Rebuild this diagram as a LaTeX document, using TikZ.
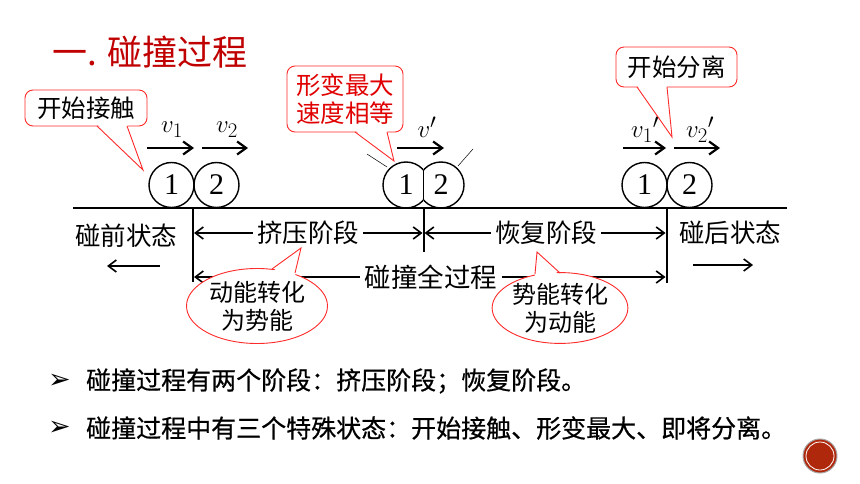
\documentclass[tikz,border=0pt]{standalone}
\usepackage{fontspec}
\setmainfont{Liberation Serif}
\newfontfamily\cjk{Noto Sans CJK SC}
\newfontfamily\cjkb[FakeBold=0.6]{Noto Sans CJK SC}
\newfontfamily\djv{DejaVu Sans}
\usetikzlibrary{arrows.meta,shapes.geometric}
\definecolor{titlered}{HTML}{C00000}
\definecolor{callred}{HTML}{FF2A2A}
\definecolor{textred}{HTML}{E00000}
\definecolor{dotred}{HTML}{B0280C}
\begin{document}
\begin{tikzpicture}[x=1pt,y=-1pt,
  ball/.style={draw,line width=1.4pt,circle,minimum size=45pt,inner sep=0pt,font=\fontsize{30}{30}\selectfont},
  ballnum/.style={inner sep=0pt,font=\fontsize{30}{30}\selectfont},
  vel/.style={line width=2.2pt,-{Straight Barb[length=9pt,width=13pt]}},
  dim/.style={line width=1.6pt,-{Straight Barb[length=8pt,width=12pt]}},
  wall/.style={line width=2pt},
  vlab/.style={inner sep=0pt,font=\fontsize{30}{30}\selectfont},
  lab/.style={inner sep=1pt,font=\cjk\fontsize{25.5}{25.5}\selectfont},
  callbox/.style={draw=callred,line width=0.9pt,fill=white,rounded corners=8pt,inner sep=0pt,font=\cjk\fontsize{24.5}{28}\selectfont,align=center},
  callline/.style={draw=callred,line width=0.9pt},
  callell/.style={draw=callred,line width=0.9pt,fill=white,ellipse,inner sep=0pt,font=\cjk\fontsize{24}{28}\selectfont,align=center},
  bul/.style={anchor=west,inner sep=0pt,font=\cjkb\fontsize{25}{25}\selectfont},
  bulmark/.style={anchor=west,inner sep=0pt,font=\djv\fontsize{27}{27}\selectfont}
]
\useasboundingbox (0,0) rectangle (860,484);

% title
\node[anchor=west,inner sep=0pt,text=titlered,font=\cjk\fontsize{35}{35}\selectfont] (title) at (52,52) {一. 碰撞过程};

% ground line
\coordinate (gl) at (73,208);
\coordinate (gr) at (787,208);
\draw[line width=2.4pt] (gl) -- (gr);

% stage 1 balls
\node[ball] (a1) at (171.5,185) {1};
\node[ball] (a2) at (216.5,185) {2};
\coordinate (v1s) at (147,148); \coordinate (v1e) at (194,148);
\coordinate (v2s) at (202,148); \coordinate (v2e) at (248,148);
\draw[vel] (v1s) -- (v1e);
\draw[vel] (v2s) -- (v2e);
\node[vlab] (lv1) at (172,130) {$v_1$};
\node[vlab] (lv2) at (227,130) {$v_2$};

% stage 2 balls (deformed)
\node[ballnum] (b1) at (406,185) {1};
\node[ballnum] (b2) at (441,185) {2};
\begin{scope}
  \clip (300,100) rectangle (423.5,260);
  \draw[line width=1.4pt] (b1.center) circle[radius=23];
\end{scope}
\begin{scope}
  \clip (423.5,100) rectangle (520,260);
  \draw[line width=1.4pt] (b2.center) circle[radius=23];
\end{scope}
\coordinate (bt) at (423.5,170); \coordinate (bb) at (423.5,200);
\draw[line width=1.2pt] (bt) -- (bb);
\coordinate (t1a) at (367,154); \coordinate (t1b) at (387,167);
\coordinate (t2a) at (458,166); \coordinate (t2b) at (473,149);
\draw[line width=0.5pt] (t1a) -- (t1b);
\draw[line width=0.5pt] (t2a) -- (t2b);
\coordinate (vps) at (397,148); \coordinate (vpe) at (444,148);
\draw[vel] (vps) -- (vpe);
\node[vlab] (lvp) at (427,127) {$v'$};

% stage 3 balls
\node[ball] (c1) at (644.5,185) {1};
\node[ball] (c2) at (689.5,185) {2};
\coordinate (w1s) at (623,148); \coordinate (w1e) at (666,148);
\coordinate (w2s) at (674,148); \coordinate (w2e) at (720,148);
\draw[vel] (w1s) -- (w1e);
\draw[vel] (w2s) -- (w2e);
\node[vlab] (lw1) at (645,130) {$v_1{}'$};
\node[vlab] (lw2) at (700,130) {$v_2{}'$};

% vertical walls
\coordinate (L0) at (193,208); \coordinate (L1) at (193,282);
\coordinate (M0) at (423.5,208); \coordinate (M1) at (423.5,252);
\coordinate (R0) at (666.5,208); \coordinate (R1) at (666.5,283);
\draw[wall] (L0) -- (L1);
\draw[wall] (M0) -- (M1);
\draw[wall] (R0) -- (R1);

% row 1 labels
\node[lab,inner sep=4pt] (sq) at (308,233) {挤压阶段};
\node[lab,inner sep=4pt] (hf) at (546,233) {恢复阶段};
\coordinate (aL) at (194,233); \coordinate (aM1) at (422.5,233);
\coordinate (aM2) at (424.5,233); \coordinate (aR) at (665.5,233);
\draw[dim] (sq.west) -- (aL);
\draw[dim] (sq.east) -- (aM1);
\draw[dim] (hf.west) -- (aM2);
\draw[dim] (hf.east) -- (aR);

\node[lab] (pre) at (126,236) {碰前状态};
\coordinate (pa1) at (160,266); \coordinate (pa2) at (107,266);
\draw[dim] (pa1) -- (pa2);
\node[lab] (post) at (730,233) {碰后状态};
\coordinate (qa1) at (693,265); \coordinate (qa2) at (753,265);
\draw[dim] (qa1) -- (qa2);

% row 2
\node[lab,inner sep=5pt,font=\cjk\fontsize{26.5}{26.5}\selectfont] (whole) at (431,277) {碰撞全过程};
\coordinate (bL) at (194,277); \coordinate (bR) at (665.5,277);
\draw[dim] (whole.west) -- (bL);
\draw[dim] (whole.east) -- (bR);

% callout 1
\node[callbox,minimum width=122pt,minimum height=36pt] (k1) at (86,108) {开始接触};
\coordinate (k1a) at (97,126); \coordinate (k1b) at (127,126); \coordinate (k1t) at (143,170);
\fill[white] (97,124) -- (k1t) -- (127,124) -- cycle;
\draw[callline] (k1a) -- (k1t) -- (k1b);

% callout 2
\node[callbox,minimum width=116pt,minimum height=66pt,text=textred] (k2) at (345,99) {形变最大\\速度相等};
\coordinate (k2a) at (355,132); \coordinate (k2b) at (387,132); \coordinate (k2t) at (394,161);
\fill[white] (355,130) -- (k2t) -- (387,130) -- cycle;
\draw[callline] (k2a) -- (k2t) -- (k2b);

% callout 3
\node[callbox,minimum width=121pt,minimum height=40pt] (k3) at (676.5,67) {开始分离};
\coordinate (k3a) at (637,87); \coordinate (k3b) at (667,87); \coordinate (k3t) at (672,137);
\fill[white] (637,85) -- (k3t) -- (667,85) -- cycle;
\draw[callline] (k3a) -- (k3t) -- (k3b);

% ellipse 1
\node[callell,minimum width=141pt,minimum height=75pt] (e1) at (257,306) {动能转化\\为势能};
\coordinate (e1a) at (272,269); \coordinate (e1b) at (295,273); \coordinate (e1t) at (301,248);
\fill[white] (272,272) -- (e1t) -- (295,276) -- cycle;
\draw[callline] (e1a) -- (e1t) -- (e1b);

% ellipse 2
\node[callell,minimum width=134pt,minimum height=70pt] (e2) at (560,308) {势能转化\\为动能};
\coordinate (e2a) at (535,274); \coordinate (e2b) at (560,273); \coordinate (e2t) at (537,252);
\fill[white] (535,277) -- (e2t) -- (560,276) -- cycle;
\draw[callline] (e2a) -- (e2t) -- (e2b);

% bullets
\node[bulmark] (m1) at (48,381) {➢};
\node[bul] (s1) at (86,381) {碰撞过程有两个阶段：挤压阶段；恢复阶段。};
\node[bulmark] (m2) at (48,428) {➢};
\node[bul] (s2) at (86,428) {碰撞过程中有三个特殊状态：开始接触、形变最大、即将分离。};

% decorative dot
\node[circle,fill=dotred,draw=gray!70,line width=1pt,minimum size=34pt,inner sep=0pt] (dot) at (820,456) {};
\draw[white,line width=0.8pt] (dot.center) circle[radius=14];
\end{tikzpicture}
\end{document}
